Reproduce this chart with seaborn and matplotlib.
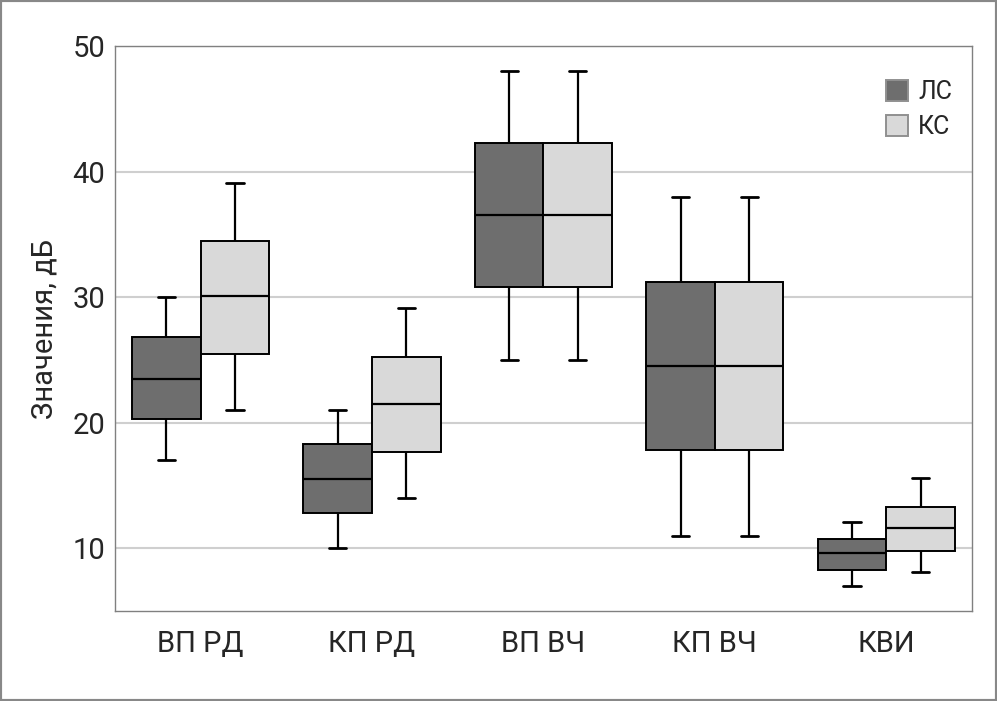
import pandas as pd
import seaborn as sns
import matplotlib.pyplot as plt
from matplotlib import font_manager
from matplotlib.patches import Rectangle

# categories and groups
categories = ["ВП РД", "КП РД", "ВП ВЧ", "КП ВЧ", "КВИ"]
groups = ["ЛС", "КС"]

# five-number summaries: min, Q1, median, Q3, max
ls_stats = [
    [17.0, 20.3, 23.5, 26.8, 30.0],
    [10.0, 12.8, 15.5, 18.3, 21.0],
    [25.0, 30.8, 36.5, 42.3, 48.0],
    [11.0, 17.8, 24.5, 31.2, 38.0],
    [7.0, 8.3, 9.6, 10.7, 12.1],
]
ks_stats = [
    [21.0, 25.5, 30.1, 34.5, 39.1],
    [14.0, 17.7, 21.5, 25.2, 29.1],
    [25.0, 30.8, 36.5, 42.3, 48.0],
    [11.0, 17.8, 24.5, 31.2, 38.0],
    [8.1, 9.8, 11.6, 13.3, 15.6],
]

rows = []
for cat, a, b in zip(categories, ls_stats, ks_stats):
    for v in a:
        rows.append({"cat": cat, "group": "ЛС", "value": v})
    for v in b:
        rows.append({"cat": cat, "group": "КС", "value": v})
data = pd.DataFrame(rows)

sns.set_style("white")
names = {f.name for f in font_manager.fontManager.ttflist}
base = "Liberation Sans Narrow" if "Liberation Sans Narrow" in names else "Roboto"
plt.rcParams["font.family"] = [base, "DejaVu Sans"]

fig = plt.figure(figsize=(9.97, 7.01), dpi=100)
ax = fig.add_axes([0.1153, 0.1284, 0.8596, 0.8060])

sns.boxplot(data=data, x="cat", y="value", hue="group", order=categories,
            hue_order=groups, palette={"ЛС": "#6e6e6e", "КС": "#d9d9d9"},
            width=0.8, whis=(0, 100), linecolor="black", linewidth=1.4,
            capwidths=0.1, ax=ax,
            medianprops={"linewidth": 1.6, "color": "black"},
            capprops={"linewidth": 2.0}, whiskerprops={"linewidth": 1.6},
            boxprops={"edgecolor": "black"})

ax.set_xlim(-0.5, 4.5)
ax.set_ylim(5, 50)
ax.set_yticks([10, 20, 30, 40, 50])
ax.yaxis.grid(True, color="#cfcfcf", linewidth=1.5)
ax.set_axisbelow(True)
ax.set_xlabel("")
ax.set_ylabel("Значения, дБ", fontsize=21, labelpad=10)
ax.tick_params(axis="both", length=0, labelsize=21, pad=7)
ax.tick_params(axis="x", pad=14)
for s in ax.spines.values():
    s.set_color("#808080")
    s.set_linewidth(1.0)

handles, labels = ax.get_legend_handles_labels()
for h in handles:
    h.set_edgecolor("#909090")
ax.legend(handles, labels, loc="upper right", bbox_to_anchor=(1.003, 0.98),
          frameon=False, fontsize=18, handlelength=0.9, handleheight=0.9,
          handletextpad=0.4, labelspacing=0.45)

fig.add_artist(Rectangle((0, 0), 1, 1, transform=fig.transFigure, fill=False,
                         edgecolor="#888888", linewidth=3))

fig.savefig("out.png", dpi=100)
